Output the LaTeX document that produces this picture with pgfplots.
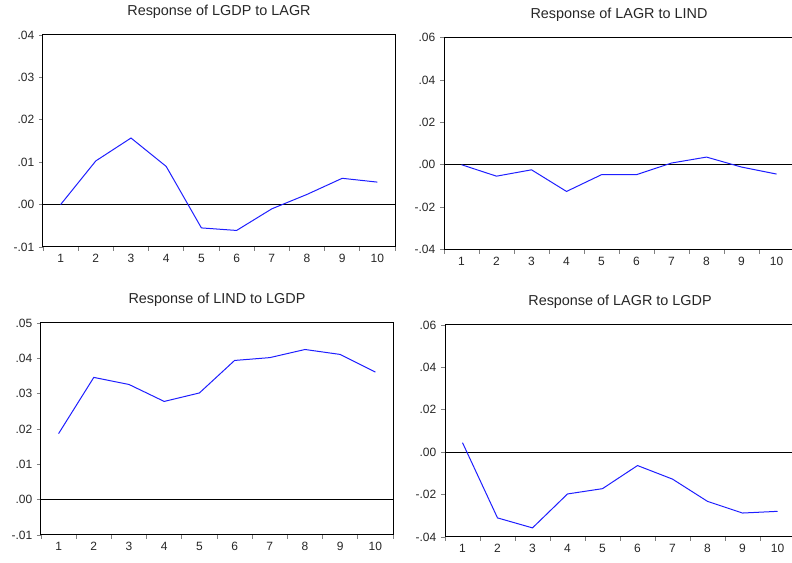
\documentclass[border=0pt]{standalone}
\usepackage{pgfplots}
\pgfplotsset{compat=1.18}
\usepackage{fontspec}
\setmainfont{Liberation Sans}
\definecolor{irfblue}{RGB}{30,30,255}
\pgfplotsset{
 irf/.style={
  scale only axis, anchor=north west, height=159pt,
  xmin=0.5, xmax=10.5,
  scaled y ticks=false,
  xtick={1,2,3,4,5,6,7,8,9,10},
  xticklabels={1,2,3,4,5,6,7,8,9,10},
  major x tick style={draw=none},
  minor xtick={0.5,1.5,2.5,3.5,4.5,5.5,6.5,7.5,8.5,9.5,10.5},
  tick align=outside, xtick pos=bottom, ytick pos=left,
  minor tick length=3pt, major tick length=3pt,
  axis line style={line width=0.75pt},
  every tick/.append style={line width=0.6pt},
  ticklabel style={font=\fontsize{9}{10}\selectfont, text=black!85},
  xticklabel style={yshift=1pt},
  title style={font=\fontsize{10.8}{12}\selectfont, text=black!85, at={(0.5,1)}, anchor=south, yshift=2.5pt},
 }
}
\begin{document}
\begin{tikzpicture}
% top-left
\begin{axis}[irf, at={(32.25pt,396pt)}, width=264pt,
  ymin=-0.01, ymax=0.04,
  ytick={-0.01,0,0.01,0.02,0.03,0.04},
  yticklabels={-.01,.00,.01,.02,.03,.04},
  title={Response of LGDP to LAGR}]
\addplot[black, line width=0.75pt] coordinates {(0.5,0) (10.5,0)};
\addplot[irfblue, line width=0.75pt] coordinates {
(1,0.0000) (2,0.0103) (3,0.0157) (4,0.0090) (5,-0.0055)
(6,-0.0061) (7,-0.0010) (8,0.0024) (9,0.0062) (10,0.0053)};
\end{axis}
% top-right
\begin{axis}[irf, at={(333pt,394.1pt)}, width=262.5pt,
  ymin=-0.04, ymax=0.06,
  ytick={-0.04,-0.02,0,0.02,0.04,0.06},
  yticklabels={-.04,-.02,.00,.02,.04,.06},
  title={Response of LAGR to LIND}]
\addplot[black, line width=0.75pt] coordinates {(0.5,0) (10.5,0)};
\addplot[irfblue, line width=0.75pt] coordinates {
(1,0.0000) (2,-0.0054) (3,-0.0024) (4,-0.0126) (5,-0.0047)
(6,-0.0047) (7,0.0008) (8,0.0036) (9,-0.0011) (10,-0.0044)};
\end{axis}
% bottom-left
\begin{axis}[irf, at={(30.75pt,180pt)}, width=264pt,
  ymin=-0.01, ymax=0.05,
  ytick={-0.01,0,0.01,0.02,0.03,0.04,0.05},
  yticklabels={-.01,.00,.01,.02,.03,.04,.05},
  title={Response of LIND to LGDP}]
\addplot[black, line width=0.75pt] coordinates {(0.5,0) (10.5,0)};
\addplot[irfblue, line width=0.75pt] coordinates {
(1,0.0187) (2,0.0346) (3,0.0326) (4,0.0278) (5,0.0302)
(6,0.0394) (7,0.0402) (8,0.0425) (9,0.0411) (10,0.0361)};
\end{axis}
% bottom-right
\begin{axis}[irf, at={(333.75pt,178.5pt)}, width=262.5pt,
  ymin=-0.04, ymax=0.06,
  ytick={-0.04,-0.02,0,0.02,0.04,0.06},
  yticklabels={-.04,-.02,.00,.02,.04,.06},
  title={Response of LAGR to LGDP}]
\addplot[black, line width=0.75pt] coordinates {(0.5,0) (10.5,0)};
\addplot[irfblue, line width=0.75pt] coordinates {
(1,0.0045) (2,-0.0310) (3,-0.0357) (4,-0.0197) (5,-0.0172)
(6,-0.0063) (7,-0.0127) (8,-0.0232) (9,-0.0287) (10,-0.0279)};
\end{axis}
\pgfresetboundingbox
\path[use as bounding box] (0,0) rectangle (594pt,422.25pt);
\end{tikzpicture}
\end{document}
